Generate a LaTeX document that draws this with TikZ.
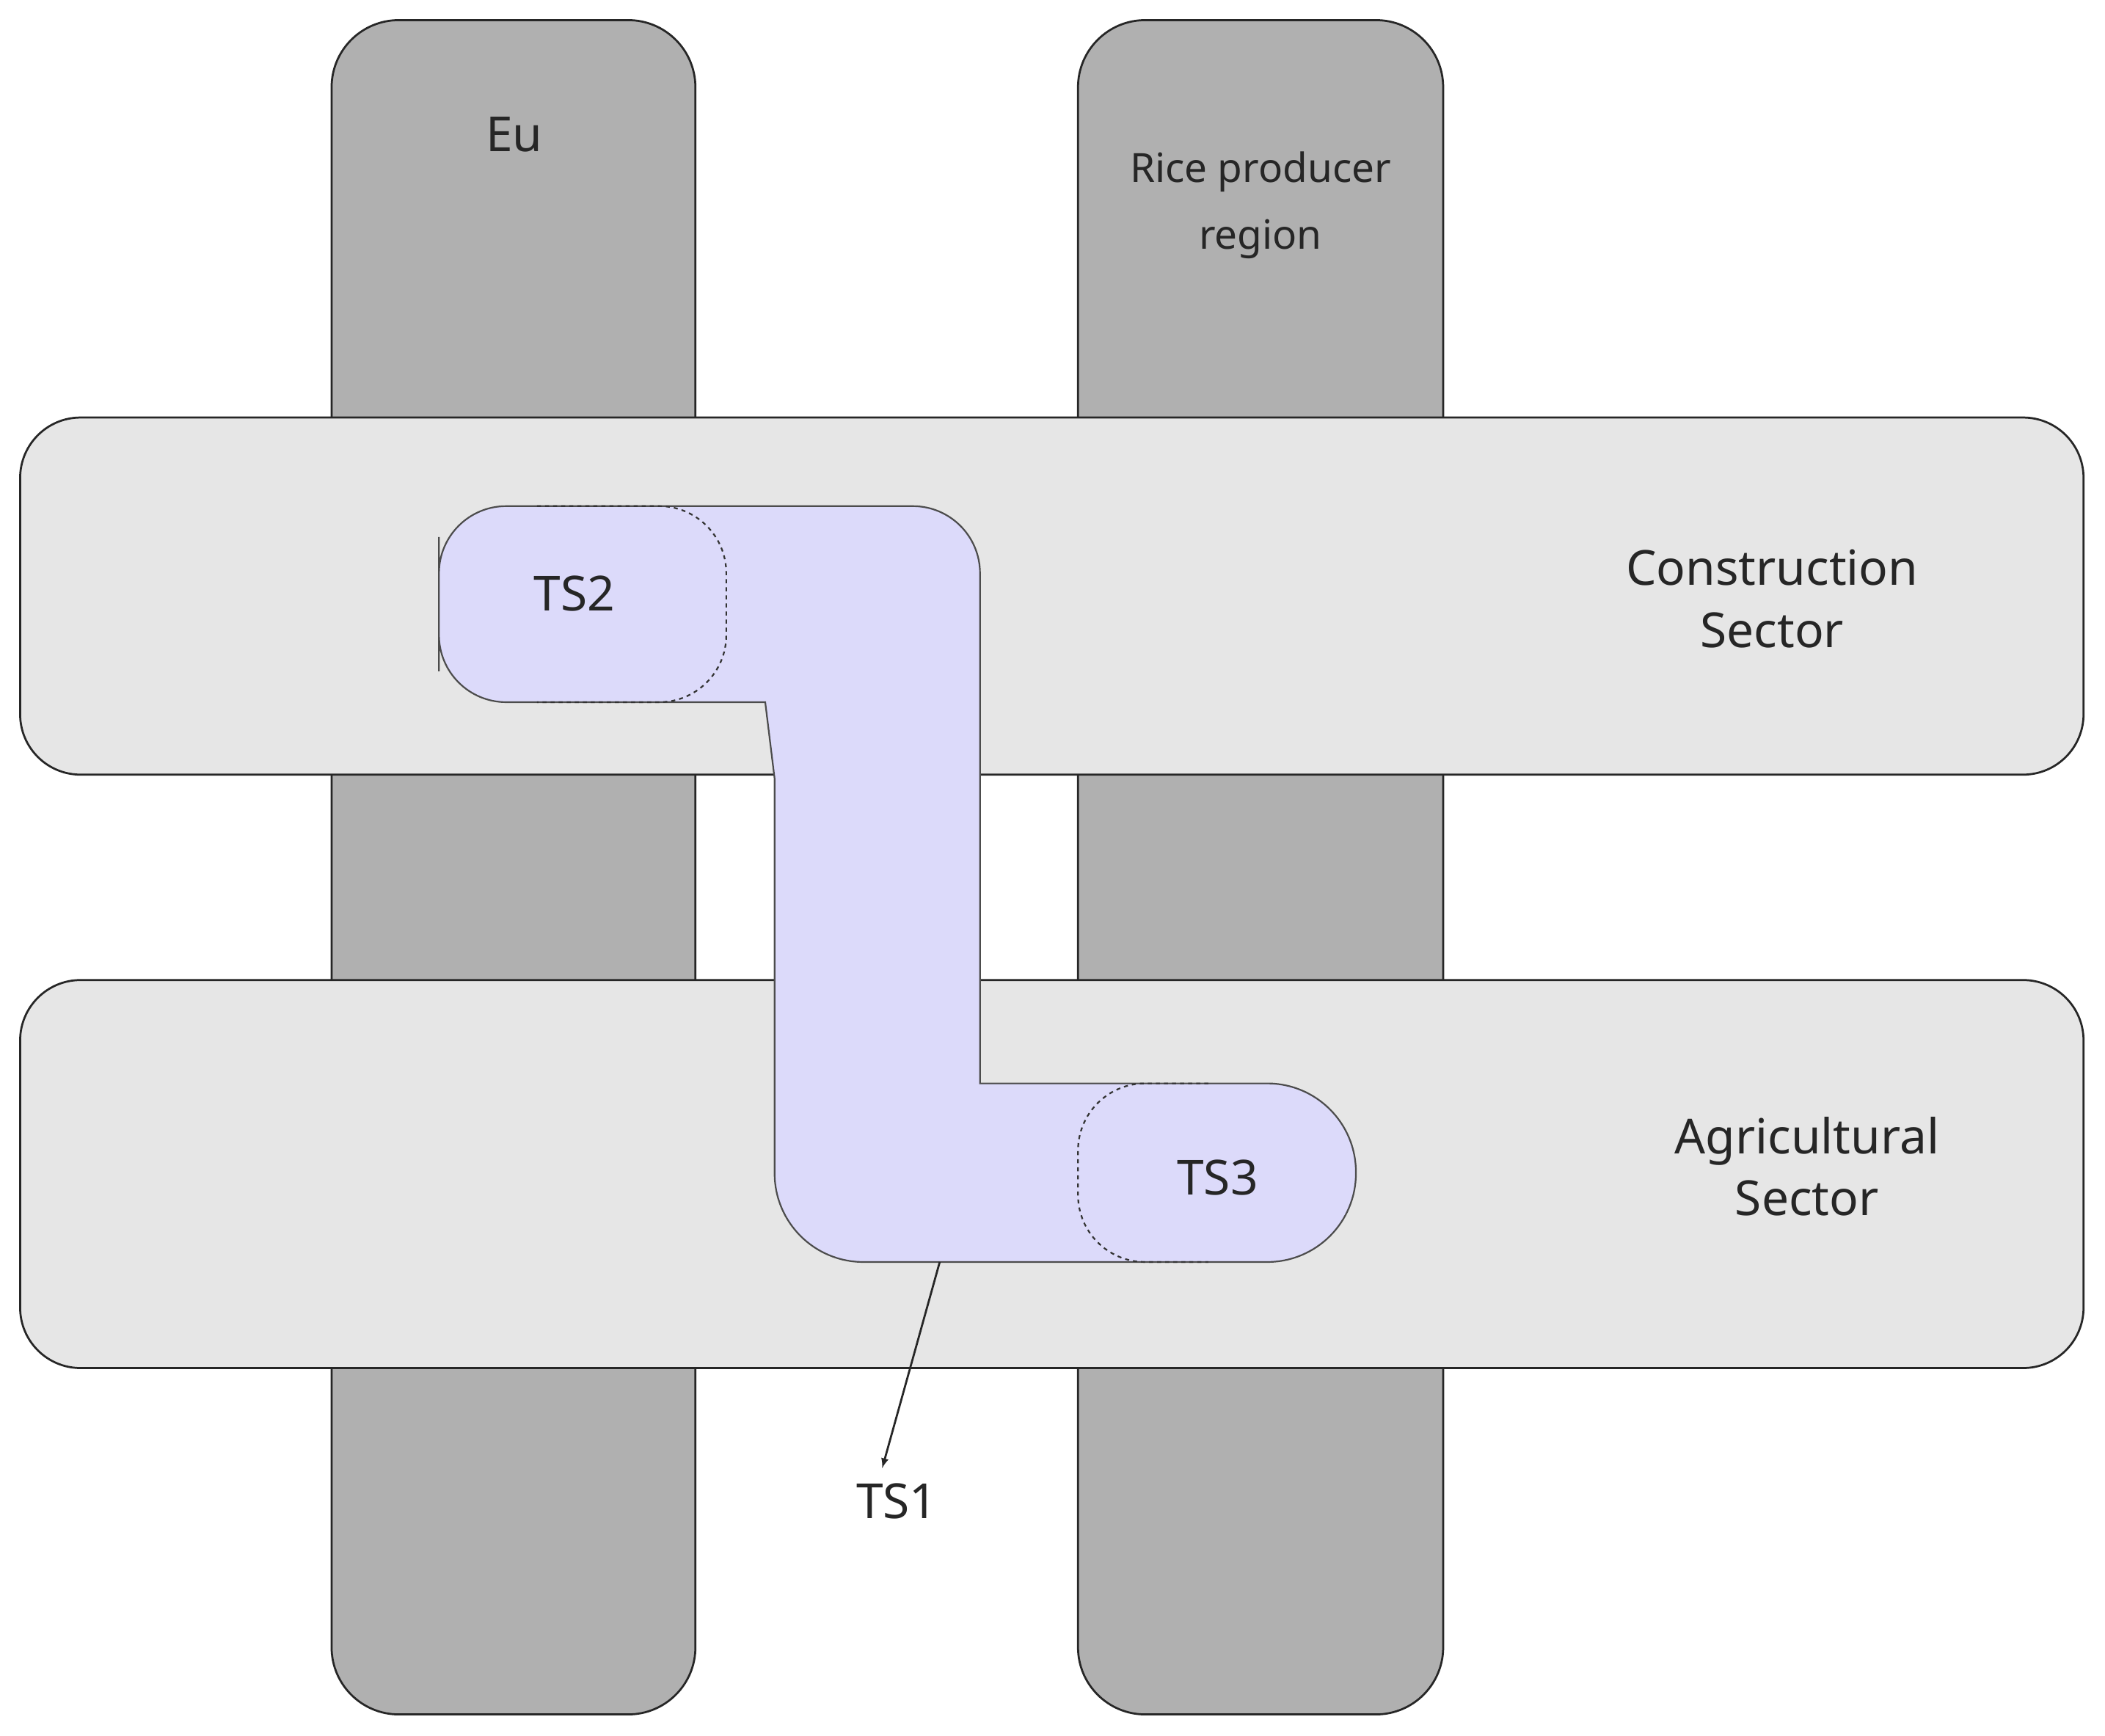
\documentclass[tikz,border=0pt]{standalone}
\usepackage{fontspec}
\setmainfont{Noto Sans}
\begin{document}
\begin{tikzpicture}[x=1pt,y=-1pt,
  col/.style={draw=black!85,line width=1.5pt,fill=colgray,rounded corners=50pt},
  band/.style={draw=black!85,line width=1.5pt,fill=bandgray,rounded corners=45pt},
  lbl/.style={font=\bfseries\fontsize{36}{46}\selectfont,text=black!85,align=center},
]
\definecolor{colgray}{HTML}{B0B0B0}
\definecolor{bandgray}{HTML}{E6E6E6}
\definecolor{purp}{HTML}{DCDAFA}
\fill[white] (0,0) rectangle (1568,1293);
\useasboundingbox (0,0) rectangle (1568,1293);
\draw[col] (247,15) rectangle (518,1277);
\draw[col] (803,15) rectangle (1075,1277);
\draw[band] (15,311) rectangle (1552,577);
\draw[band] (15,730) rectangle (1552,1019);
\node[lbl] (eu) at (383,100) {Eu};
\node[lbl,font=\bfseries\fontsize{30}{50}\selectfont] (rice) at (939,153) {Rice producer\\region};
\node[lbl] (cons) at (1320,446) {Construction\\Sector};
\node[lbl] (agri) at (1346,869) {Agricultural\\Sector};
% purple shape
\draw[fill=purp,draw=black!70,line width=1.2pt,rounded corners=50pt]
 (327,450) |- (730,377) -- (730,807) [rounded corners=0pt]-- (730,807) [rounded corners=66pt]-- (1010,807) |- (577,940) [rounded corners=0pt] -- (577,580) -- (570,523) [rounded corners=50pt] -- (327,523) -- cycle;
\draw[dashed,line width=1.2pt,black!80,rounded corners=50pt] (400,377) -- (541,377) -- (541,523) -- (400,523);
\draw[dashed,line width=1.2pt,black!80,rounded corners=50pt] (900,807) -- (803,807) -- (803,940) -- (900,940);
\node[lbl] (ts2) at (428,442) {TS2};
\node[lbl] (ts3) at (907,877) {TS3};
\coordinate (src) at (700,940);
\node[lbl] (ts1) at (668,1118) {TS1};
\draw[-latex,line width=1.5pt,black!85,shorten >=8pt] (src) -- (ts1.north -| 655,0);
\end{tikzpicture}
\end{document}
